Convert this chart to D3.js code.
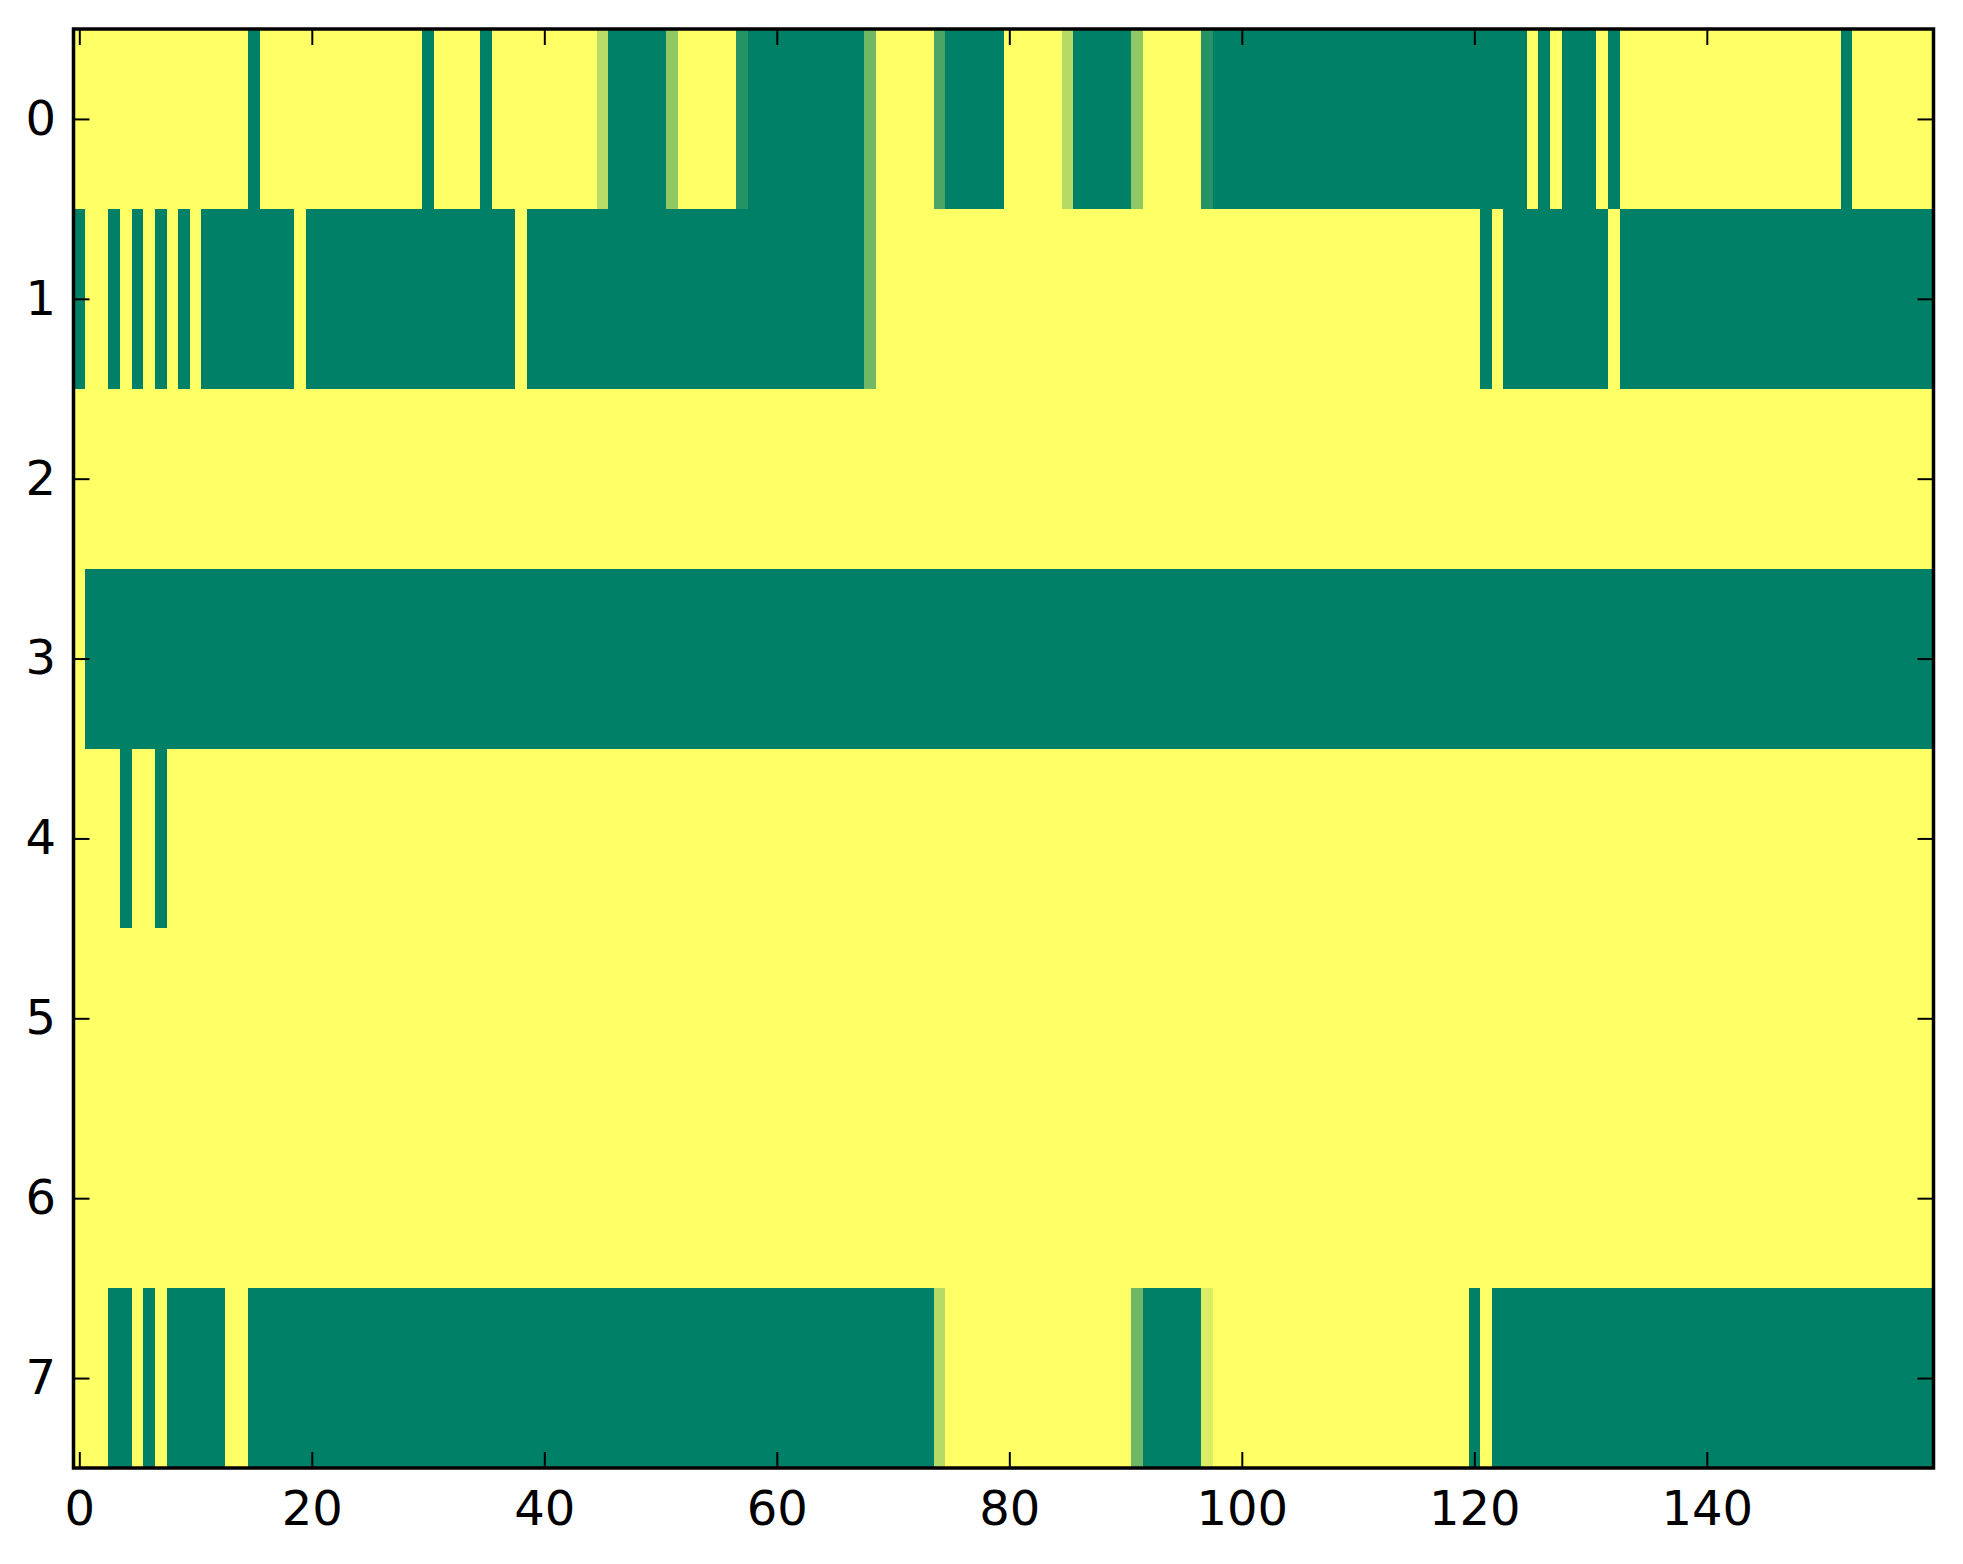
<!DOCTYPE html>
<html>
<head>
<meta charset="utf-8">
<script src="https://cdn.jsdelivr.net/npm/d3@7"></script>
<style>
  html, body { margin: 0; padding: 0; background: #fff; }
  text { font-family: "DejaVu Sans", sans-serif; }
</style>
</head>
<body>
<div id="chart"></div>
<script>
// one array per image row, 160 columns each (1 = yellow end, 0 = green end)
const row0 = [
  1,1,1,1,1,1,1,1,1,1,1,1,1,1,1,0,1,1,1,1,
  1,1,1,1,1,1,1,1,1,1,0,1,1,1,1,0,1,1,1,1,
  1,1,1,1,1,0.72,0,0,0,0,0,0.57,1,1,1,1,1,0.15,0,0,
  0,0,0,0,0,0,0,0,0.44,1,1,1,1,1,0.29,0,0,0,0,0,
  1,1,1,1,1,0.71,0,0,0,0,0,0.57,1,1,1,1,1,0.15,0,0,
  0,0,0,0,0,0,0,0,0,0,0,0,0,0,0,0,0,0,0,0,
  0,0,0,0,0,1,0,1,0,0,0,1,0,1,1,1,1,1,1,1,
  1,1,1,1,1,1,1,1,1,1,1,1,0,1,1,1,1,1,1,1
];
const row1 = [
  0,1,1,0,1,0,1,0,1,0,1,0,0,0,0,0,0,0,0,1,
  0,0,0,0,0,0,0,0,0,0,0,0,0,0,0,0,0,0,1,0,
  0,0,0,0,0,0,0,0,0,0,0,0,0,0,0,0,0,0,0,0,
  0,0,0,0,0,0,0,0,0.44,1,1,1,1,1,1,1,1,1,1,1,
  1,1,1,1,1,1,1,1,1,1,1,1,1,1,1,1,1,1,1,1,
  1,1,1,1,1,1,1,1,1,1,1,1,1,1,1,1,1,1,1,1,
  1,0,1,0,0,0,0,0,0,0,0,0,1,0,0,0,0,0,0,0,
  0,0,0,0,0,0,0,0,0,0,0,0,0,0,0,0,0,0,0,0
];
const row2 = [
  1,1,1,1,1,1,1,1,1,1,1,1,1,1,1,1,1,1,1,1,
  1,1,1,1,1,1,1,1,1,1,1,1,1,1,1,1,1,1,1,1,
  1,1,1,1,1,1,1,1,1,1,1,1,1,1,1,1,1,1,1,1,
  1,1,1,1,1,1,1,1,1,1,1,1,1,1,1,1,1,1,1,1,
  1,1,1,1,1,1,1,1,1,1,1,1,1,1,1,1,1,1,1,1,
  1,1,1,1,1,1,1,1,1,1,1,1,1,1,1,1,1,1,1,1,
  1,1,1,1,1,1,1,1,1,1,1,1,1,1,1,1,1,1,1,1,
  1,1,1,1,1,1,1,1,1,1,1,1,1,1,1,1,1,1,1,1
];
const row3 = [
  1,0,0,0,0,0,0,0,0,0,0,0,0,0,0,0,0,0,0,0,
  0,0,0,0,0,0,0,0,0,0,0,0,0,0,0,0,0,0,0,0,
  0,0,0,0,0,0,0,0,0,0,0,0,0,0,0,0,0,0,0,0,
  0,0,0,0,0,0,0,0,0,0,0,0,0,0,0,0,0,0,0,0,
  0,0,0,0,0,0,0,0,0,0,0,0,0,0,0,0,0,0,0,0,
  0,0,0,0,0,0,0,0,0,0,0,0,0,0,0,0,0,0,0,0,
  0,0,0,0,0,0,0,0,0,0,0,0,0,0,0,0,0,0,0,0,
  0,0,0,0,0,0,0,0,0,0,0,0,0,0,0,0,0,0,0,0
];
const row4 = [
  1,1,1,1,0,1,1,0,1,1,1,1,1,1,1,1,1,1,1,1,
  1,1,1,1,1,1,1,1,1,1,1,1,1,1,1,1,1,1,1,1,
  1,1,1,1,1,1,1,1,1,1,1,1,1,1,1,1,1,1,1,1,
  1,1,1,1,1,1,1,1,1,1,1,1,1,1,1,1,1,1,1,1,
  1,1,1,1,1,1,1,1,1,1,1,1,1,1,1,1,1,1,1,1,
  1,1,1,1,1,1,1,1,1,1,1,1,1,1,1,1,1,1,1,1,
  1,1,1,1,1,1,1,1,1,1,1,1,1,1,1,1,1,1,1,1,
  1,1,1,1,1,1,1,1,1,1,1,1,1,1,1,1,1,1,1,1
];
const row5 = row2.slice();
const row6 = row2.slice();
const row7 = [
  1,1,1,0,0,1,0,1,0,0,0,0,0,1,1,0,0,0,0,0,
  0,0,0,0,0,0,0,0,0,0,0,0,0,0,0,0,0,0,0,0,
  0,0,0,0,0,0,0,0,0,0,0,0,0,0,0,0,0,0,0,0,
  0,0,0,0,0,0,0,0,0,0,0,0,0,0,0.71,1,1,1,1,1,
  1,1,1,1,1,1,1,1,1,1,1,0.43,0,0,0,0,0,0.86,1,1,
  1,1,1,1,1,1,1,1,1,1,1,1,1,1,1,1,1,1,1,1,
  0,1,0,0,0,0,0,0,0,0,0,0,0,0,0,0,0,0,0,0,
  0,0,0,0,0,0,0,0,0,0,0,0,0,0,0,0,0,0,0,0
];
const rows = [row0, row1, row2, row3, row4, row5, row6, row7];

const xTicks = [0, 20, 40, 60, 80, 100, 120, 140];
const yTicks = [0, 1, 2, 3, 4, 5, 6, 7];

// plot area in page pixels
const W = 1963, H = 1564;
const plot = {left: 73.5, right: 1933.5, top: 29, bottom: 1468};
const nCols = row0.length, nRows = rows.length;

// summer colormap: linear from green to yellow
const color = d3.scaleLinear().domain([0, 1]).range(["#008066", "#ffff66"]);

const x = d3.scaleLinear().domain([-0.5, nCols - 0.5]).range([plot.left, plot.right]);
const y = d3.scaleLinear().domain([-0.5, nRows - 0.5]).range([plot.top, plot.bottom]);

const svg = d3.select("#chart")
  .append("svg")
    .attr("width", W)
    .attr("height", H);

// flatten into cells
const cells = [];
rows.forEach((r, j) => r.forEach((v, i) => cells.push({i: i, j: j, v: v})));

svg.append("g")
  .selectAll("rect")
  .data(cells)
  .enter()
  .append("rect")
    .attr("x", d => x(d.i - 0.5))
    .attr("y", d => y(d.j - 0.5))
    .attr("width", x(1) - x(0) + 0.4)
    .attr("height", y(1) - y(0) + 0.4)
    .attr("fill", d => color(d.v))
    .attr("shape-rendering", "crispEdges");

const tick = 16;
const fontSize = 48;

// bottom axis with labels, ticks pointing in
const gx = svg.append("g")
  .attr("transform", "translate(0," + plot.bottom + ")")
  .call(d3.axisBottom(x).tickValues(xTicks).tickSizeInner(-tick).tickSizeOuter(0).tickPadding(23));

// left axis with labels
const gy = svg.append("g")
  .attr("transform", "translate(" + plot.left + ",0)")
  .call(d3.axisLeft(y).tickValues(yTicks).tickSizeInner(-tick).tickSizeOuter(0).tickPadding(17.5));

// top and right: ticks only
const gt = svg.append("g")
  .attr("transform", "translate(0," + plot.top + ")")
  .call(d3.axisTop(x).tickValues(xTicks).tickSizeInner(-tick).tickSizeOuter(0).tickFormat(""));
const gr = svg.append("g")
  .attr("transform", "translate(" + plot.right + ",0)")
  .call(d3.axisRight(y).tickValues(yTicks).tickSizeInner(-tick).tickSizeOuter(0).tickFormat(""));

[gx, gy, gt, gr].forEach(g => {
  g.select(".domain").remove();
  g.selectAll(".tick line").attr("stroke", "#000").attr("stroke-width", 2);
  g.selectAll(".tick text")
    .attr("fill", "#000")
    .style("font-family", "'DejaVu Sans', sans-serif")
    .style("font-size", fontSize + "px");
});

// frame
svg.append("rect")
  .attr("x", plot.left)
  .attr("y", plot.top)
  .attr("width", plot.right - plot.left)
  .attr("height", plot.bottom - plot.top)
  .attr("fill", "none")
  .attr("stroke", "#000")
  .attr("stroke-width", 3.5);
</script>
</body>
</html>
